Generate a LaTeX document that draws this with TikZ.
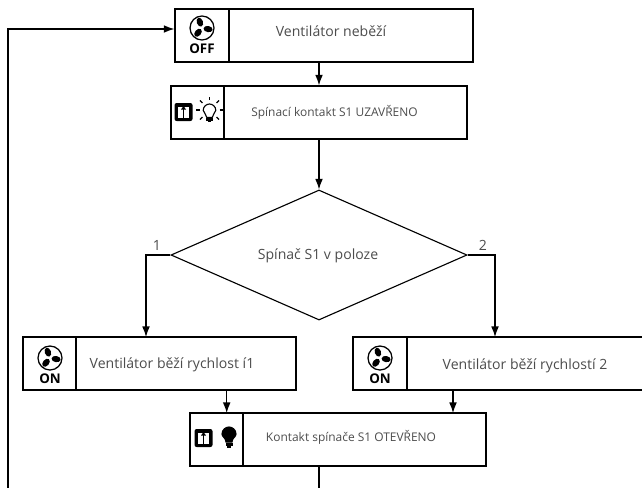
\documentclass[tikz,border=0pt]{standalone}
\usepackage{fontspec}
\setmainfont{Open Sans}
\usetikzlibrary{arrows.meta,shapes.geometric}

\definecolor{labelgray}{gray}{0.3}
\tikzset{
    box/.style={draw, rectangle, line width=0.9pt, inner sep=0pt, minimum height=1.325cm},
    choice/.style={draw, diamond, line width=0.8pt, inner sep=0pt, minimum width=7.4cm, minimum height=3.25cm},
    boxtext/.style={inner sep=0pt, text=labelgray, font=\fontsize{10}{12}\selectfont},
    smalltext/.style={boxtext, font=\fontsize{8.5}{10}\selectfont},
    state/.style={inner sep=0pt, font=\bfseries\fontsize{9.5}{11}\selectfont},
    flow/.style={line width=0.8pt, -{Latex[length=7.5pt,width=5.5pt]}},
    wire/.style={line width=0.8pt},
    fan/.pic={
        \draw[line width=0.9pt] (0,0) circle (12);
        \foreach \a in {110, 230, 350}
            \fill[rotate=\a] (6.2,0) ellipse (4.6 and 3.1);
    },
    door/.pic={
        \fill[rounded corners=1.5pt] (-9,-9) rectangle (9,9);
        \fill[white] (-5.5,-5) rectangle (5.5,5.5);
        \draw[line width=0.9pt] (0,-5) -- (0,6);
        \fill (-2.5,-2.5) -- (0,-6) -- (2.5,-2.5) -- cycle;
    },
    bulb/.pic={
        \draw[line width=0.8pt, fill=#1] (-3,5) .. controls (-3,1) and (-7,0) .. (-7,-3)
            .. controls (-7,-7.5) and (-3,-10) .. (0,-10)
            .. controls (3,-10) and (7,-7.5) .. (7,-3)
            .. controls (7,0) and (3,1) .. (3,5) -- cycle;
        \fill (-3.5,6) rectangle (3.5,8.5);
        \fill (-2,8.5) rectangle (2,10.5);
    },
}

\begin{document}
\begin{tikzpicture}[x=0.025cm, y=-0.025cm]
    \clip (0,0) rectangle (642,487);

    \node[box, minimum width=7.45cm] (fanoff) at (324,35.5) {};
    \node[box, minimum width=7.4cm] (closed) at (319,112.5) {};
    \node[choice] (switch) at (319,255) {};
    \node[box, minimum width=6.825cm] (speedone) at (159.5,363.5) {};
    \node[box, minimum width=7.7cm] (speedtwo) at (507,363.5) {};
    \node[box, minimum width=7.4cm] (opened) at (338,439.5) {};

    \node[boxtext] (fanofftext) at (331,31) {Ventilátor neběží};
    \node[smalltext] (closedtext) at (334.5,112) {Spínací kontakt S1 UZAVŘENO};
    \node[boxtext] (switchtext) at (318,256) {Spínač S1 v poloze};
    \node[boxtext] (speedonetext) at (172,365) {Ventilátor běží rychlost í1};
    \node[boxtext] (speedtwotext) at (525,366) {Ventilátor běží rychlostí 2};
    \node[smalltext] (openedtext) at (351,437) {Kontakt spínače S1 OTEVŘENO};
    \node[boxtext] (one) at (157,245) {1};
    \node[boxtext] (two) at (483,245) {2};

    \draw[wire] (229,9) -- (229,62);
    \draw[wire] (224,86) -- (224,139);
    \draw[wire] (76,337) -- (76,390);
    \draw[wire] (407,337) -- (407,390);
    \draw[wire] (243,413) -- (243,466);

    \pic at (202,28) {fan};
    \node[state] (offlabel) at (202,49) {OFF};
    \pic at (50,358) {fan};
    \node[state] (onlabelone) at (50,379) {ON};
    \pic at (380,358) {fan};
    \node[state] (onlabeltwo) at (380,379) {ON};

    \pic at (183.5,112) {door};
    \pic[scale=0.9] at (209.5,113) {bulb=white};
    \foreach \a in {-135, -90, -45, 0, 45, 135, 180} {
        \draw[line width=0.8pt] ([shift={(\a:10)}]209.5,110) -- ([shift={(\a:13.5)}]209.5,110);
    }
    \pic at (203.5,438) {door};
    \pic at (229,437) {bulb=black};

    \coordinate (fanofftop) at (8,29);
    \coordinate (speedonetop) at (146,337);
    \coordinate (speedtwotop) at (495,337);
    \coordinate (openedone) at (226.7,413);
    \coordinate (openedtwo) at (453,413);

    \draw[flow] (fanoff.south -| switch.north) -- (closed.north -| switch.north);
    \draw[flow] (closed.south -| switch.north) -- (switch.north);
    \draw[flow] (switch.west) -| (speedonetop);
    \draw[flow] (switch.east) -| (speedtwotop);
    \draw[flow] (speedone.south -| openedone) -- (openedone);
    \draw[flow] (speedtwo.south -| openedtwo) -- (openedtwo);
    \draw[flow] (opened.south -| switch.south) -- (319,510) -| (fanofftop) -- (fanofftop -| fanoff.west);
\end{tikzpicture}
\end{document}
